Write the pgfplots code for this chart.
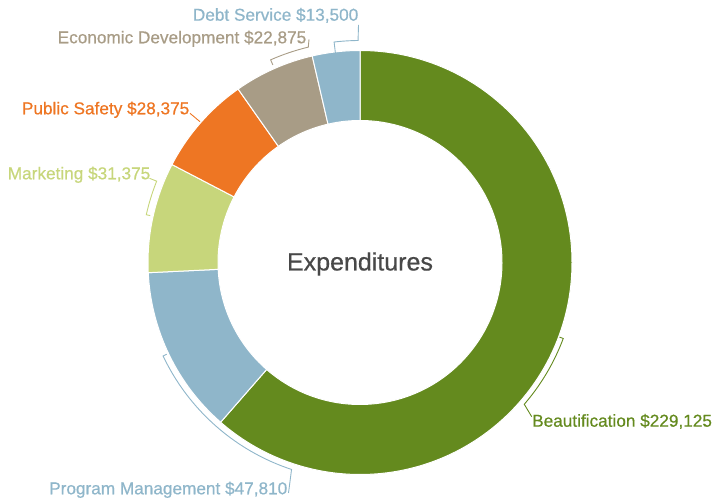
\documentclass[border=0pt]{standalone}
\usepackage{fontspec}
\setmainfont{Liberation Sans}
\newfontfamily\lblfont[FakeBold=0.6]{Liberation Sans}
\usepackage{pgfplots}
\usepackage{pgfplotstable}
\pgfplotsset{compat=1.18}

\definecolor{cBeaut}{HTML}{648A1E}
\definecolor{cProg}{HTML}{8FB6CA}
\definecolor{cMark}{HTML}{C7D67B}
\definecolor{cSafe}{HTML}{EE7623}
\definecolor{cEcon}{HTML}{A89C86}
\definecolor{cDebt}{HTML}{8FB6CA}
\definecolor{cText}{HTML}{484848}

% expenditures, clockwise from 12 o'clock
\pgfplotstableread[col sep=comma]{
name,value,color
Beautification,229125,cBeaut
Program Management,47810,cProg
Marketing,31375,cMark
Public Safety,28375,cSafe
Economic Development,22875,cEcon
Debt Service,13500,cDebt
}\expdata

\tikzset{lbl/.style={inner sep=0pt, font=\lblfont\fontsize{17.2}{20}\selectfont}}

\begin{document}
\begin{tikzpicture}
\begin{axis}[
    x=1pt, y=1pt,
    xmin=0, xmax=723, ymin=0, ymax=503,
    hide axis, clip=false,
]
\path (rel axis cs:0,0) rectangle (rel axis cs:1,1);
\coordinate (c) at (axis cs:360,240.5);

\pgfplotsextra{
  \gdef\total{0}
  \foreach \i in {0,...,5}{
    \pgfplotstablegetelem{\i}{value}\of\expdata
    \xdef\total{\fpeval{\total+\pgfplotsretval}}
  }
  \gdef\angA{90}
  \foreach \i in {0,...,5}{
    \pgfplotstablegetelem{\i}{value}\of\expdata \let\v\pgfplotsretval
    \pgfplotstablegetelem{\i}{color}\of\expdata \let\col\pgfplotsretval
    \xdef\angB{\fpeval{\angA-360*\v/\total}}
    \fill[\col, draw=white, line width=1pt]
      ([shift={(\angA:212pt)}]c) arc[start angle=\angA, end angle=\angB, radius=212pt]
      -- ([shift={(\angB:142pt)}]c) arc[start angle=\angB, end angle=\angA, radius=142pt]
      -- cycle;
    \xdef\angA{\angB}
  }
}

% leader brackets
\draw[cDebt, line width=0.9pt] ([shift={(96.7:211pt)}]c) -- ([shift={(96.7:222pt)}]c)
  arc[start angle=96.7, end angle=90.5, radius=222pt] -- (axis cs:358.5,478);
\draw[cEcon, line width=0.9pt] ([shift={(113.8:216pt)}]c) -- ([shift={(113.8:221.5pt)}]c)
  arc[start angle=113.8, end angle=103.5, radius=221.5pt] -- (axis cs:309,463.7);
\draw[cSafe, line width=0.9pt] (axis cs:200,381.3) -- (axis cs:190,389.7);
\draw[cMark, line width=0.9pt] ([shift={(167.4:215pt)}]c) -- ([shift={(167.4:219pt)}]c)
  arc[start angle=167.4, end angle=158.2, radius=219pt] -- (axis cs:149.5,324.7);
\draw[cProg, line width=0.9pt] ([shift={(-154.6:214pt)}]c) -- ([shift={(-154.6:218pt)}]c)
  arc[start angle=-154.6, end angle=-108.3, radius=218pt] -- (axis cs:288.5,10);
\draw[cBeaut, line width=0.9pt] ([shift={(-20.5:213pt)}]c) -- ([shift={(-20.5:217pt)}]c)
  arc[start angle=-20.5, end angle=-40.8, radius=217pt] -- (axis cs:531.7,86.3);

% labels
\node[lbl, anchor=base east, text=cDebt] at (axis cs:358.5,482.3) {Debt Service \$13,500};
\node[lbl, anchor=base east, text=cEcon] at (axis cs:306.5,459.7) {Economic Development \$22,875};
\node[lbl, anchor=base east, text=cSafe] at (axis cs:189.5,388.7) {Public Safety \$28,375};
\node[lbl, anchor=base east, text=cMark] at (axis cs:150.5,323.7) {Marketing \$31,375};
\node[lbl, anchor=base east, text=cProg] at (axis cs:287.5,8.7) {Program Management \$47,810};
\node[lbl, anchor=base west, text=cBeaut] at (axis cs:532,76.3) {Beautification \$229,125};
\node[text=cText, font=\lblfont\fontsize{25}{30}\selectfont] at (axis cs:360,239) {Expenditures};
\end{axis}
\end{tikzpicture}
\end{document}
